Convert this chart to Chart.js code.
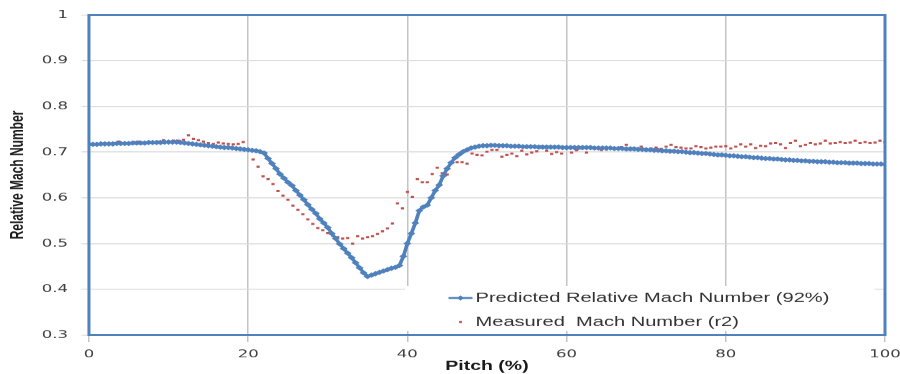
<!DOCTYPE html>
<html>
<head>
<meta charset="utf-8">
<script src="https://cdn.jsdelivr.net/npm/chart.js@4"></script>
<style>
  html, body { margin: 0; padding: 0; background: #fff; overflow: hidden; }
  /* chart is laid out narrow and stretched sideways, like the exported sheet */
  #wrap { width: 600px; height: 374px; transform: scaleX(1.5); transform-origin: 0 0; }
</style>
</head>
<body>
<div id="wrap"><canvas id="machChart" width="600" height="374"></canvas></div>
<script>
// predicted relative Mach number, every 0.5 % pitch from 0 to 100
const predStep = 0.5;
const predicted = [
  .717,.717,.717,.718,.718,.718,.718,.719,.719,.719,.719,.720,.720,.720,.720,.721,.721,.721,.721,.722,
  .722,.722,.722,.721,.720,.719,.718,.717,.716,.715,.714,.713,.712,.711,.710,.710,.709,.708,.707,.706,
  .705,.704,.703,.701,.698,.686,.675,.664,.652,.643,.634,.627,.616,.606,.596,.585,.575,.566,.554,.545,
  .535,.522,.511,.499,.489,.479,.469,.458,.447,.436,.428,.431,.434,.437,.440,.443,.446,.448,.452,.472,
  .500,.522,.545,.572,.580,.584,.600,.616,.628,.648,.664,.677,.688,.695,.701,.705,.709,.711,.713,.714,
  .714,
  .715,.715,.714,.714,.714,.713,.713,.713,.712,.712,.712,.712,.711,.711,.711,.711,.711,.711,.710,.710,
  .710,.710,.710,.710,.710,.710,.709,.709,.709,.709,.709,.708,.708,.708,.707,.707,.707,.706,.706,.705,
  .705,.704,.704,.703,.703,.702,.702,.701,.701,.700,.699,.699,.698,.697,.697,.696,.695,.694,.694,.693,
  .692,.692,.691,.690,.690,.689,.688,.688,.687,.686,.686,.685,.685,.684,.683,.683,.682,.682,.681,.681,
  .680,.680,.679,.679,.679,.678,.678,.677,.677,.677,.676,.676,.676,.675,.675,.675,.674,.674,.674,.673
];

// measured Mach number (r2), every 0.625 % pitch
const measStep = 0.625;
const measured = [
  .718,.717,.718,.719,.719,.720,.723,.720,.719,.722,.723,.720,.722,.721,.723,.726,.724,.725,.725,.727,
  .737,.729,.726,.723,.720,.718,.721,.719,.718,.717,.718,.722,.705,.684,.668,.647,.641,.630,.615,.605,
  .596,.583,.574,.564,.553,.543,.534,.529,.523,.517,.514,.511,.512,.500,.516,.511,.514,.516,.521,.527,
  .533,.544,.588,.577,.613,.602,.641,.634,.634,.652,.666,.654,.651,.677,.678,.678,.675,.697,.694,.693,
  .701,.705,.705,.690,.694,.697,.691,.703,.695,.699,.702,.713,.703,.696,.700,.697,.708,.699,.704,.708,
  .699,.708,.708,.705,.706,.709,.708,.711,.716,.709,.708,.712,.707,.708,.710,.707,.712,.716,.711,.710,
  .708,.708,.713,.711,.708,.710,.712,.712,.713,.708,.712,.717,.712,.717,.709,.714,.713,.719,.720,.717,
  .709,.720,.725,.713,.716,.720,.717,.719,.725,.719,.720,.722,.720,.721,.725,.720,.722,.720,.721,.725,
  .722
];

const xTicks = [0, 20, 40, 60, 80, 100];
const yTicks = [0.3, 0.4, 0.5, 0.6, 0.7, 0.8, 0.9, 1];

const predLabel = 'Predicted Relative Mach Number (92%)';
const measLabel = 'Measured  Mach Number (r2)';

const blue = '#4f81bd';
const red = '#c0504d';

const predPoints = predicted.map((v, i) => ({ x: i * predStep, y: v }));
const measPoints = measured.map((v, i) => ({ x: i * measStep, y: v }));

// white legend box in the lower right corner + blue frame round the plot
const frameAndLegend = {
  id: 'frameAndLegend',
  afterDraw(chart) {
    const ctx = chart.ctx;
    const a = chart.chartArea;
    ctx.save();
    ctx.fillStyle = '#fff';
    ctx.fillRect(270, 286, 313, 45);

    ctx.font = '13.4px "Liberation Sans", Arial, sans-serif';
    ctx.textBaseline = 'middle';

    // predicted entry: line with diamond marker
    ctx.strokeStyle = blue;
    ctx.lineWidth = 2;
    ctx.beginPath();
    ctx.moveTo(299, 298);
    ctx.lineTo(315, 298);
    ctx.stroke();
    ctx.fillStyle = blue;
    ctx.beginPath();
    ctx.moveTo(307, 295.5);
    ctx.lineTo(309.5, 298);
    ctx.lineTo(307, 300.5);
    ctx.lineTo(304.5, 298);
    ctx.closePath();
    ctx.fill();
    ctx.fillStyle = '#333';
    ctx.fillText(predLabel, 317, 298);

    // measured entry: small square
    ctx.fillStyle = red;
    ctx.fillRect(306, 321, 2, 2);
    ctx.fillStyle = '#333';
    ctx.fillText(measLabel, 317, 322);

    ctx.strokeStyle = blue;
    ctx.lineWidth = 2;
    ctx.strokeRect(a.left, a.top, a.right - a.left, a.bottom - a.top);
    ctx.restore();
  }
};

Chart.defaults.font.family = '"DejaVu Sans", sans-serif';
Chart.defaults.color = '#404040';

new Chart(document.getElementById('machChart'), {
  type: 'scatter',
  data: {
    datasets: [
      {
        label: predLabel,
        data: predPoints,
        showLine: true,
        borderColor: blue,
        backgroundColor: blue,
        borderWidth: 2.5,
        pointStyle: 'rectRot',
        pointRadius: 2.7,
        pointBorderWidth: 0,
        order: 1
      },
      {
        label: measLabel,
        data: measPoints,
        showLine: false,
        borderColor: red,
        backgroundColor: red,
        pointStyle: 'rect',
        pointRadius: 1.5,
        pointBorderWidth: 0,
        order: 2
      }
    ]
  },
  options: {
    responsive: false,
    animation: false,
    devicePixelRatio: 1.5,
    layout: { padding: { top: 15, right: 10, bottom: 0, left: 0 } },
    plugins: {
      legend: { display: false },
      tooltip: { enabled: false }
    },
    scales: {
      x: {
        type: 'linear',
        min: 0,
        max: 100,
        afterBuildTicks: (s) => { s.ticks = xTicks.map(v => ({ value: v })); },
        afterFit: (s) => { s.height = 39; s.paddingLeft = 0; s.paddingRight = 0; },
        grid: { color: '#c4c4c4', lineWidth: 1, tickLength: 7 },
        border: { display: false },
        ticks: { font: { size: 11 }, padding: 6, maxRotation: 0 },
        title: {
          display: true,
          text: 'Pitch (%)',
          color: '#1a1a1a',
          font: { family: '"Liberation Sans", Arial, sans-serif', size: 13, weight: 'bold' },
          padding: { top: 0, bottom: 0 }
        }
      },
      y: {
        min: 0.3,
        max: 1,
        afterBuildTicks: (s) => { s.ticks = yTicks.map(v => ({ value: v })); },
        afterFit: (s) => { s.width = 59.3; s.paddingTop = 0; s.paddingBottom = 0; },
        grid: { color: '#dadada', lineWidth: 1, tickLength: 5 },
        border: { display: false },
        ticks: {
          font: { size: 11 },
          padding: 9,
          callback: (v) => String(Number(v.toFixed(1)))
        },
        title: {
          display: true,
          text: 'Relative Mach Number',
          color: '#1a1a1a',
          font: { family: '"Liberation Sans", Arial, sans-serif', size: 12, weight: 'bold' },
          padding: { top: 5, bottom: 0 }
        }
      }
    }
  },
  plugins: [frameAndLegend]
});
</script>
</body>
</html>
